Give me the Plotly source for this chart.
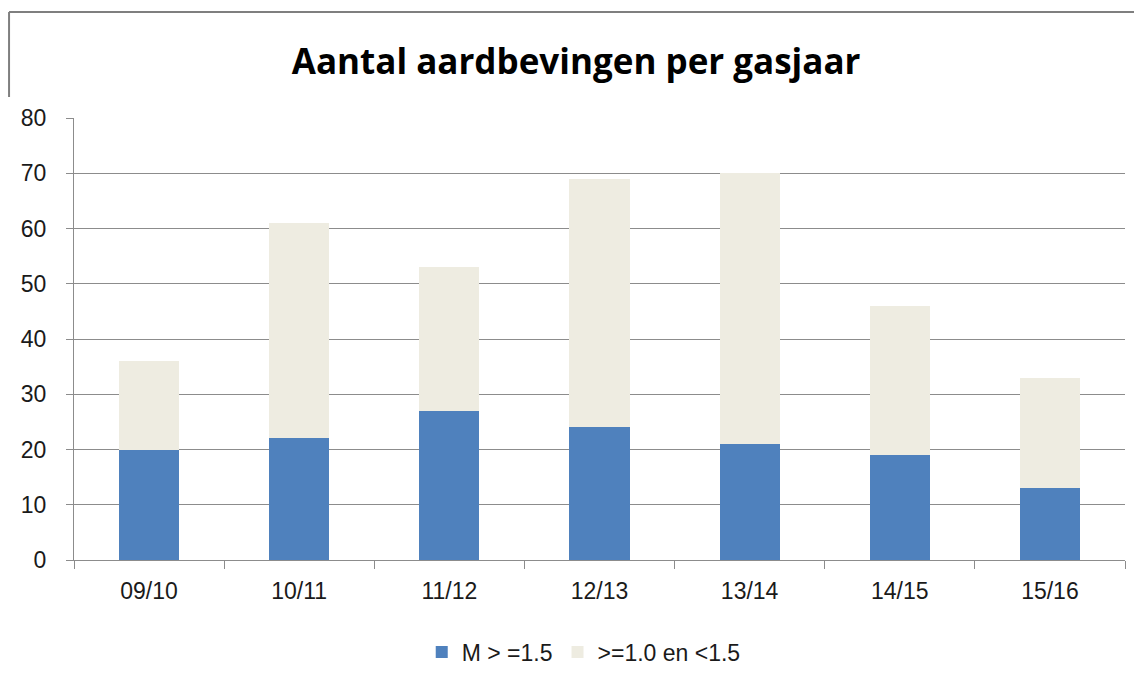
import plotly.graph_objects as go

categories = ["09/10", "10/11", "11/12", "12/13", "13/14", "14/15", "15/16"]
m_ge_15 = [20, 22, 27, 24, 21, 19, 13]
m_10_15 = [16, 39, 26, 45, 49, 27, 20]
y_ticks = [0, 10, 20, 30, 40, 50, 60, 70, 80]

fig = go.Figure()
fig.add_trace(go.Bar(x=categories, y=m_ge_15, name="M > =1.5",
                     marker=dict(color="#4F81BD", line=dict(width=0))))
fig.add_trace(go.Bar(x=categories, y=m_10_15, name=">=1.0 en <1.5",
                     marker=dict(color="#EEECE1", line=dict(width=0))))

fig.update_layout(
    barmode="stack",
    bargap=0.6,
    width=1134, height=678,
    margin=dict(l=66, r=17, t=110, b=126),
    paper_bgcolor="white", plot_bgcolor="white",
    font=dict(family="Liberation Sans, Arial", color="#1a1a1a", size=23),
    title=dict(text="<b>Aantal aardbevingen per gasjaar</b>", x=0.501, xanchor="center",
               y=0.920, yanchor="middle",
               font=dict(family="Open Sans", size=35, color="#000000")),
    legend=dict(orientation="h", x=0.485, xanchor="center", y=-0.208, yanchor="middle",
                font=dict(size=23), traceorder="normal", itemwidth=30),
    showlegend=True,
)
fig.update_yaxes(range=[0, 80], tickvals=y_ticks, showgrid=True, gridcolor="#8C8C8C",
                 gridwidth=1, showline=True, linecolor="#8C8C8C", linewidth=1,
                 ticks="outside", ticklen=7, tickcolor="#8C8C8C", zeroline=False,
                 ticklabelstandoff=15, tickfont=dict(size=23))
fig.update_xaxes(showline=True, linecolor="#8C8C8C", linewidth=1, ticks="outside",
                 ticklen=8, tickcolor="#8C8C8C", tickson="boundaries",
                 ticklabelstandoff=10, tickfont=dict(size=23))

# outer frame fragments
fig.add_shape(type="line", xref="paper", yref="paper", x0=-0.0618, x1=1.02, y0=1.2398, y1=1.2398,
              line=dict(color="#7F7F7F", width=2))
fig.add_shape(type="line", xref="paper", yref="paper", x0=-0.0618, x1=-0.0618, y0=1.2398, y1=1.0475,
              line=dict(color="#7F7F7F", width=2))

fig.write_html("out.html")
